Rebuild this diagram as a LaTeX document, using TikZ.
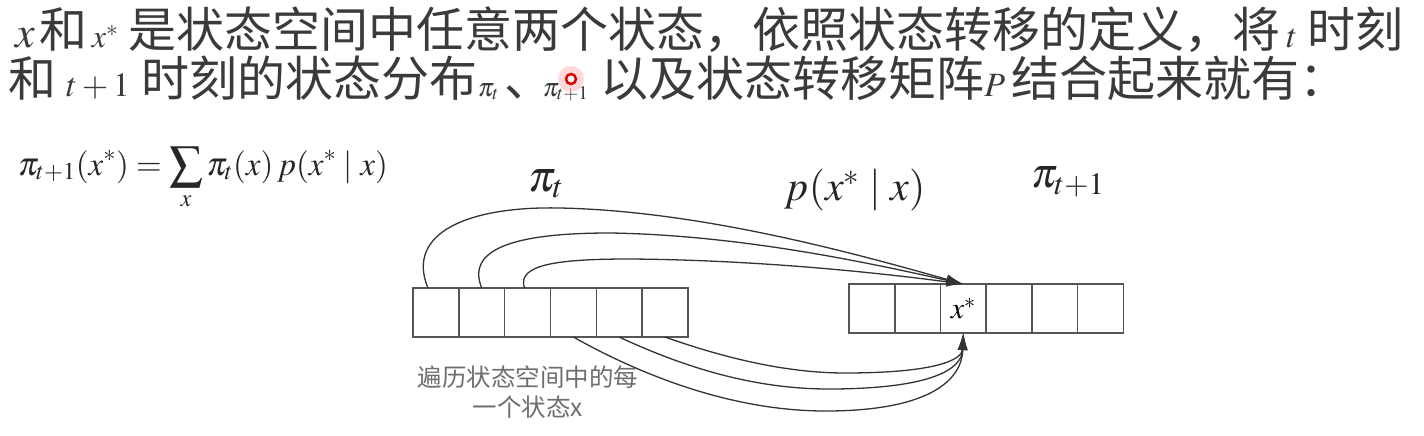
\documentclass[tikz,border=0pt]{standalone}
\usepackage{mathptmx}
\usepackage{fontspec}
\setmainfont{Liberation Serif}
\newfontfamily\cjk{Noto Sans CJK SC}
\usetikzlibrary{arrows.meta,calc}
\definecolor{txt}{HTML}{3A3A3A}
\definecolor{lin}{HTML}{555555}
\definecolor{note}{HTML}{6E6E6E}
\newcommand{\mth}[2]{{\fontsize{#1}{#1}\selectfont$#2$}}
\newcommand{\cj}[1]{{\cjk\fontsize{48}{50}\selectfont #1}}
\begin{document}
\begin{tikzpicture}[x=1pt,y=-1pt,
  cell/.style={draw=lin,line width=1.4pt,minimum width=45.8pt,minimum height=49pt,inner sep=0pt,outer sep=0pt},
  link/.style={draw=black!80,line width=1.3pt,-{Latex[length=17pt,width=10pt]}},
  title/.style={anchor=base west,inner sep=0pt,text=txt},
  lbl/.style={inner sep=0pt,text=black!85}]
\useasboundingbox (0,0) rectangle (1424,436);

% title lines
\node[title] (l1) at (15,48) {\mth{44}{x}\hspace{5pt}\cj{和}\hspace{4pt}\mth{32}{x^{*}}\hspace{10pt}\cj{是状态空间中任意两个状态，依照状态转移的定义，将}\hspace{6pt}\mth{34}{t}\hspace{10pt}\cj{时刻}};
\node[title] (l2) at (8,96) {\cj{和}\hspace{10pt}\mth{34}{t+1}\hspace{12pt}\cj{时刻的状态分布}\mth{26}{\pi_t}\hspace{6pt}\cj{、}\hspace{-10pt}\mth{26}{\pi_{t+1}}\hspace{12pt}\cj{以及状态转移矩阵}\mth{34}{P}\hspace{6pt}\cj{结合起来就有：}};

% pointer mark
\fill[red!30,opacity=0.5] (571,79) circle (13);
\draw[red!85!black,line width=2.5pt,fill=white] (571,79) circle (5);

% formula
\node[anchor=base west,inner sep=0pt,text=black!85] (eq) at (18,175) {\mth{33}{\displaystyle \pi_{t+1}(x^{*})=\sum_{x}\pi_t(x)\,p(x^{*}\;|\;x)}};

% labels
\node[lbl] (pit) at (546,184) {\mth{44}{\pi_t}};
\node[lbl] (pxx) at (855,190) {\mth{42}{p(x^{*}\;|\;x)}};
\node[lbl] (pit1) at (1068,182) {\mth{42}{\pi_{t+1}}};

% arrays
\foreach \i in {1,...,6} \node[cell] (L\i) at ({413+22.9+(\i-1)*45.8},312.5) {};
\foreach \i in {1,2,4,5,6} \node[cell] (R\i) at ({849+22.9+(\i-1)*45.7},308.5) {};
\node[cell] (R3) at ({849+22.9+2*45.7},308.5) {\mth{30}{x^{*}}};

% top curves
\draw[link] ([xshift=-8pt]L1.north) .. controls (405,232) and (470,206) .. (560,208) .. controls (700,211) and (850,252) .. (R3.north);
\draw[link] ([xshift=0pt]L2.north) .. controls (465,247) and (520,233) .. (610,233) .. controls (740,235) and (870,263) .. (R3.north);
\draw[link] ([xshift=-3pt]L3.north) .. controls (516,264) and (560,259) .. (630,259) .. controls (760,260) and (880,273) .. (R3.north);

% bottom curves
\draw[link] (L4.south) .. controls (650,380) and (740,412) .. (830,411) .. controls (930,410) and (962,380) .. (R3.south);
\draw[link] (L5.south) .. controls (690,370) and (760,390) .. (835,389) .. controls (930,388) and (962,370) .. (R3.south);
\draw[link] (L6.south) .. controls (730,360) and (790,373) .. (845,373) .. controls (935,373) and (962,360) .. (R3.south);

% note
\node[align=center,text=note,inner sep=0pt,font=\cjk\fontsize{24.5}{30}\selectfont] (note) at (528,392) {遍历状态空间中的每\\一个状态x};
\end{tikzpicture}
\end{document}
